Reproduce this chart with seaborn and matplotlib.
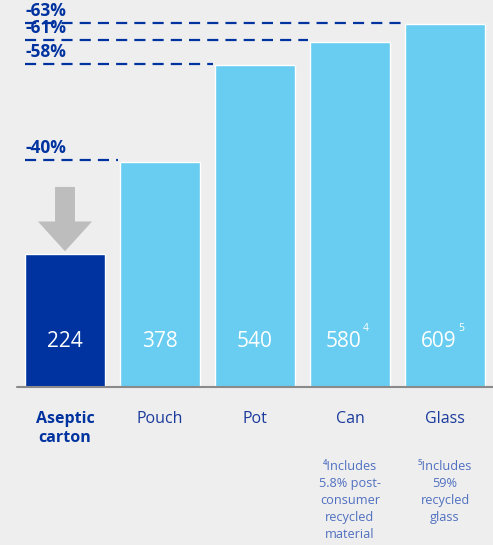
import numpy as np
import pandas as pd
import seaborn as sns
import matplotlib.pyplot as plt
from matplotlib import transforms

# chart data
categories = ["Aseptic\ncarton", "Pouch", "Pot", "Can", "Glass"]
values = [224, 378, 540, 580, 609]
reductions = [None, "-40%", "-58%", "-61%", "-63%"]
superscripts = ["", "", "", "4", "5"]
footnotes = ["", "", "", "⁴Includes\n5.8% post-\nconsumer\nrecycled\nmaterial",
             "⁵Includes\n59%\nrecycled\nglass"]

DARK = "#0033a0"
LIGHT = "#68cdf0"
BG = "#eeeeee"
FONT = ["Open Sans", "DejaVu Sans"]

sns.set_theme(style="white")
plt.rcParams["font.family"] = FONT

df = pd.DataFrame({"cat": categories, "value": values})
colors = [DARK] + [LIGHT] * (len(categories) - 1)

fig = plt.figure(figsize=(4.93, 5.45), dpi=100, facecolor=BG)
ax = fig.add_axes([0, 1 - 387 / 545, 1, 387 / 545])
ax.set_facecolor(BG)

sns.barplot(data=df, x="cat", y="value", hue="cat", palette=colors,
            width=0.84, legend=False, ax=ax, saturation=1)

ax.set_xlim(-65 / 95, (493 - 65) / 95)
ax.set_ylim(0, 650)
for s in ax.spines.values():
    s.set_visible(False)
ax.set_yticks([])
ax.set_xlabel("")
ax.set_ylabel("")
ax.axhline(0, xmin=17 / 493, xmax=1, color="#8a8a8a", lw=1.5, clip_on=False)

# dashed reference lines and reduction labels
x_left = -65 / 95 + 25 / 95
for i, (v, r) in enumerate(zip(values, reductions)):
    if r is None:
        continue
    ax.plot([x_left, i - 0.44], [v + 3, v + 3], color=DARK, lw=1.6,
            dashes=(5, 3.2))
    ax.text(x_left, v + 8, r, color=DARK, fontsize=12.5, fontweight="bold",
            ha="left", va="bottom")

# value labels inside bars
for i, (v, sup) in enumerate(zip(values, superscripts)):
    ax.text(i - (0.07 if sup else 0), 77, str(v), color="white", fontsize=15,
            ha="center", va="center")
    if sup:
        ax.text(i + 0.14, 98, sup, color="white", fontsize=7.5, ha="left",
                va="center")

# gray arrow above aseptic bar
ax.arrow(0, values[0] + 112, 0, -58, width=0.21, head_width=0.57,
         head_length=50, length_includes_head=False, color="#bdbdbd", lw=0)

# category labels
ax.set_xticks(range(len(categories)))
ax.set_xticklabels(categories, fontsize=11.5, color="#1a3a9c", linespacing=1.3)
ax.tick_params(axis="x", length=0, pad=17)
ax.get_xticklabels()[0].set_fontweight("bold")
ax.get_xticklabels()[0].set_color(DARK)

# footnotes
trans = transforms.blended_transform_factory(ax.transData, fig.transFigure)
for i, note in enumerate(footnotes):
    if note:
        fig.text(i, 1 - 460 / 545, note, transform=trans, ha="center",
                 va="top", fontsize=9.2, color="#5070c0", linespacing=1.4,
                 family=FONT)

fig.savefig("out.png", dpi=100, facecolor=BG)
